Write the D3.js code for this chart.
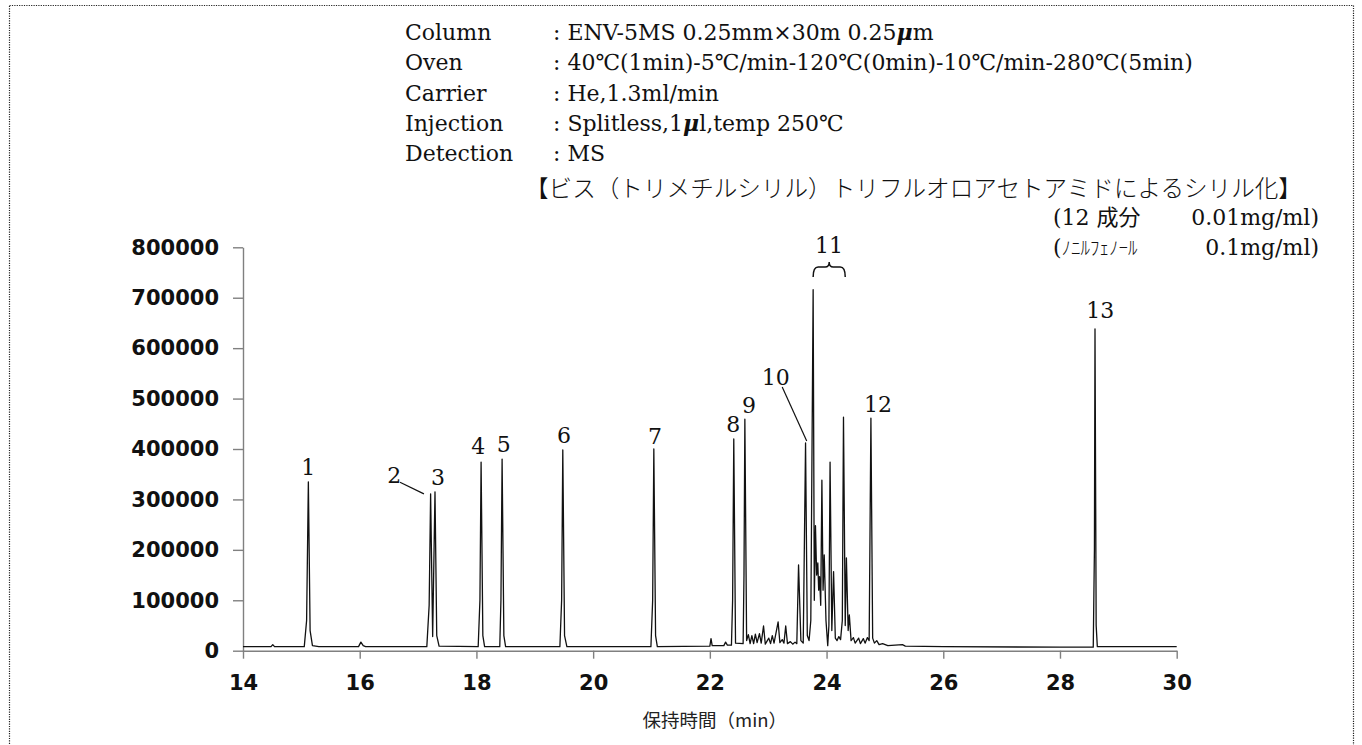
<!DOCTYPE html>
<html>
<head>
<meta charset="utf-8">
<script src="https://cdn.jsdelivr.net/npm/d3@7"></script>
<style>
body { margin: 0; background: #fff; }
</style>
</head>
<body>
<script>
width = 1362;
height = 745;

// analysis conditions (header block)
condLabels = ["Column", "Oven", "Carrier", "Injection", "Detection"];
condValues = [": ENV-5MS 0.25mm×30m 0.25μm",
              ": 40℃(1min)-5℃/min-120℃(0min)-10℃/min-280℃(5min)",
              ": He,1.3ml/min",
              ": Splitless,1μl,temp 250℃",
              ": MS"];
subTitle = "【ビス（トリメチルシリル）トリフルオロアセトアミドによるシリル化】";
concNames = ["(12 成分", "(ﾉﾆﾙﾌｪﾉｰﾙ"];
concValues = ["0.01mg/ml)", "0.1mg/ml)"];

// axes
xTicks = [14, 16, 18, 20, 22, 24, 26, 28, 30];
yTicks = [0, 100000, 200000, 300000, 400000, 500000, 600000, 700000, 800000];
xTitle = "保持時間（min）";

// chromatogram trace: retention time (min) / abundance
traceT = [14.00, 14.48, 14.51, 14.54, 15.05, 15.09, 15.12, 15.15, 15.19, 15.30,
          15.98, 16.02, 16.06, 16.10, 17.15, 17.19, 17.215, 17.25, 17.29, 17.32,
          17.36, 18.03, 18.06, 18.08, 18.11, 18.14, 18.40, 18.42, 18.44, 18.47,
          18.50, 19.43, 19.46, 19.48, 19.51, 19.55, 20.99, 21.02, 21.04, 21.07,
          21.10, 22.00, 22.02, 22.04, 22.24, 22.27, 22.30, 22.37, 22.39, 22.41,
          22.44, 22.57, 22.585, 22.60, 22.63, 22.66, 22.69, 22.72, 22.75, 22.78,
          22.81, 22.85, 22.88, 22.92, 22.95, 23.01, 23.04, 23.07, 23.10, 23.17,
          23.20, 23.24, 23.27, 23.30, 23.33, 23.38, 23.42, 23.46, 23.49, 23.52,
          23.56, 23.60, 23.64, 23.67, 23.70, 23.73, 23.77, 23.79, 23.81, 23.83,
          23.85, 23.865, 23.88, 23.90, 23.92, 23.94, 23.96, 23.99, 24.02, 24.04,
          24.06, 24.09, 24.12, 24.15, 24.18, 24.21, 24.24, 24.27, 24.29, 24.32,
          24.34, 24.37, 24.39, 24.42, 24.46, 24.49, 24.55, 24.58, 24.63, 24.66,
          24.70, 24.73, 24.76, 24.79, 24.82, 24.86, 24.90, 24.96, 25.05, 25.30,
          25.35, 26.00, 28.00, 28.57, 28.59, 28.60, 28.62, 28.64, 30.00];
traceV = [8000, 8000, 12000, 8000, 8000, 60000, 335000, 40000, 10000, 8000,
          8000, 17000, 10000, 8000, 8000, 90000, 311000, 28000, 315000, 30000,
          9000, 8000, 100000, 374000, 30000, 8000, 8000, 100000, 380000, 30000,
          8000, 8000, 100000, 398000, 30000, 8000, 8000, 100000, 400000, 30000,
          8000, 9000, 24000, 10000, 10000, 17000, 11000, 11000, 100000, 420000,
          15000, 14000, 150000, 459000, 20000, 32000, 14000, 30000, 14000, 33000,
          16000, 34000, 15000, 49000, 13000, 25000, 14000, 30000, 15000, 57000,
          16000, 22000, 15000, 49000, 14000, 18000, 13000, 17000, 14000, 170000,
          20000, 15000, 412000, 30000, 20000, 60000, 716000, 100000, 248000, 150000,
          174000, 120000, 147000, 90000, 338000, 120000, 190000, 60000, 10000, 50000,
          374000, 40000, 157000, 25000, 20000, 28000, 22000, 60000, 463000, 50000,
          184000, 40000, 71000, 20000, 26000, 15000, 25000, 14000, 24000, 15000,
          26000, 20000, 461000, 25000, 15000, 20000, 12000, 14000, 10000, 12000,
          9000, 8000, 7000, 7000, 200000, 638000, 50000, 8000, 8000];

// peak numbers and where they sit (time, abundance at the baseline of the number)
peakNames = ["1", "2", "3", "4", "5", "6", "7", "8", "9", "10", "11", "12", "13"];
peakLabelT = [15.12, 16.59, 17.34, 18.03, 18.47, 19.50, 21.06, 22.40, 22.67, 23.13, 24.04, 24.88, 28.69];
peakLabelV = [348000, 332000, 328000, 390000, 394000, 412000, 410000, 434000, 471000, 527000, 789000, 473000, 660000];

svg = d3.select("body").append("svg")
  .attr("width", width)
  .attr("height", height);
svg.append("rect").attr("width", width).attr("height", height).attr("fill", "#fff");

// dotted frame
svg.append("rect")
  .attr("x", 9.5).attr("y", 5.5)
  .attr("width", 1344).attr("height", 770)
  .attr("fill", "none")
  .attr("stroke", "#222")
  .attr("stroke-width", 1.2)
  .attr("stroke-dasharray", "1.2,1.2");

serif = "'DejaVu Serif', 'Noto Sans CJK JP', serif";
cjk = "'Noto Sans CJK JP', sans-serif";

// header block
head = svg.append("g").attr("font-family", serif).attr("font-size", 22).attr("fill", "#111");
condLabels.forEach(function(d, i) {
  var yy = 40 + i * 30.3;
  head.append("text").attr("x", 405).attr("y", yy).text(d);
  var t = head.append("text").attr("x", 553).attr("y", yy);
  var parts = condValues[i].split("μ");
  parts.forEach(function(p, j) {
    if (j > 0) t.append("tspan").attr("font-style", "italic").attr("font-weight", "bold").text("μ");
    t.append("tspan").text(p);
  });
});
svg.append("text")
  .attr("x", 525).attr("y", 197)
  .attr("font-family", cjk).attr("font-size", 23.6).attr("font-weight", 300)
  .attr("fill", "#111")
  .text(subTitle);
concNames.forEach(function(d, i) {
  var yy = 225 + i * 30.3;
  var t = svg.append("text").attr("x", 1053).attr("y", yy)
    .attr("font-family", serif).attr("font-size", 22).attr("fill", "#111");
  if (i == 0) t.text(d);
  else {
    t.append("tspan").text(d.slice(0, 1));
    t.append("tspan").attr("font-family", cjk).attr("font-size", 19).attr("font-weight", 300).text(d.slice(1));
  }
  svg.append("text").attr("x", 1319).attr("y", yy)
    .attr("text-anchor", "end")
    .attr("font-family", serif).attr("font-size", 22).attr("fill", "#111")
    .text(concValues[i]);
});

// scales
x = d3.scaleLinear().domain([14, 30]).range([243, 1176.7]);
y = d3.scaleLinear().domain([0, 800000]).range([650.7, 247.3]);

yAxis = svg.append("g")
  .attr("transform", "translate(" + x(14) + ",0)")
  .call(d3.axisLeft(y).tickValues(yTicks).tickSize(10).tickSizeOuter(0).tickPadding(14).tickFormat(d3.format("d")));
xAxis = svg.append("g")
  .attr("transform", "translate(0," + y(0) + ")")
  .call(d3.axisBottom(x).tickValues(xTicks).tickSize(8).tickSizeOuter(0).tickPadding(16).tickFormat(d3.format("d")));
[yAxis, xAxis].forEach(function(a) {
  a.selectAll("path, line").attr("stroke", "#808080").attr("stroke-width", 1.4);
  a.selectAll("text")
    .attr("font-family", "'DejaVu Sans', sans-serif")
    .attr("font-weight", "bold")
    .attr("font-size", 21)
    .attr("fill", "#111");
});

svg.append("text")
  .attr("x", (x(14) + x(30)) / 2 + 5).attr("y", 727)
  .attr("text-anchor", "middle")
  .attr("font-family", cjk).attr("font-size", 18.5)
  .attr("fill", "#222")
  .text(xTitle);

// trace
line = d3.line().x(function(d) { return x(d[0]); }).y(function(d) { return y(d[1]); });
svg.append("path")
  .datum(d3.zip(traceT, traceV))
  .attr("d", line)
  .attr("fill", "none")
  .attr("stroke", "#111")
  .attr("stroke-width", 1.3)
  .attr("stroke-linejoin", "round");

// peak numbers
svg.append("g").selectAll("text")
  .data(peakNames)
  .join("text")
  .attr("x", function(d, i) { return x(peakLabelT[i]); })
  .attr("y", function(d, i) { return y(peakLabelV[i]); })
  .attr("text-anchor", "middle")
  .attr("font-family", serif)
  .attr("font-size", 22)
  .attr("fill", "#111")
  .text(function(d) { return d; });

// leader lines for 2 and 10
leaders = [[16.69, 334000, 17.10, 311000], [23.24, 523000, 23.66, 416000]];
svg.append("g").selectAll("line")
  .data(leaders)
  .join("line")
  .attr("x1", function(d) { return x(d[0]); })
  .attr("y1", function(d) { return y(d[1]); })
  .attr("x2", function(d) { return x(d[2]); })
  .attr("y2", function(d) { return y(d[3]); })
  .attr("stroke", "#111")
  .attr("stroke-width", 1.2);

// brace over the group of peaks 11
bx0 = x(23.77); bx1 = x(24.32); bxm = (bx0 + bx1) / 2;
byTop = y(771000); byMid = y(761000); byEnd = y(741000);
svg.append("path")
  .attr("d", "M" + bx0 + "," + byEnd +
    " Q" + bx0 + "," + byMid + " " + (bx0 + 5) + "," + byMid +
    " L" + (bxm - 4) + "," + byMid +
    " Q" + bxm + "," + byMid + " " + bxm + "," + byTop +
    " Q" + bxm + "," + byMid + " " + (bxm + 4) + "," + byMid +
    " L" + (bx1 - 5) + "," + byMid +
    " Q" + bx1 + "," + byMid + " " + bx1 + "," + byEnd)
  .attr("fill", "none")
  .attr("stroke", "#111")
  .attr("stroke-width", 1.5);
</script>
</body>
</html>
